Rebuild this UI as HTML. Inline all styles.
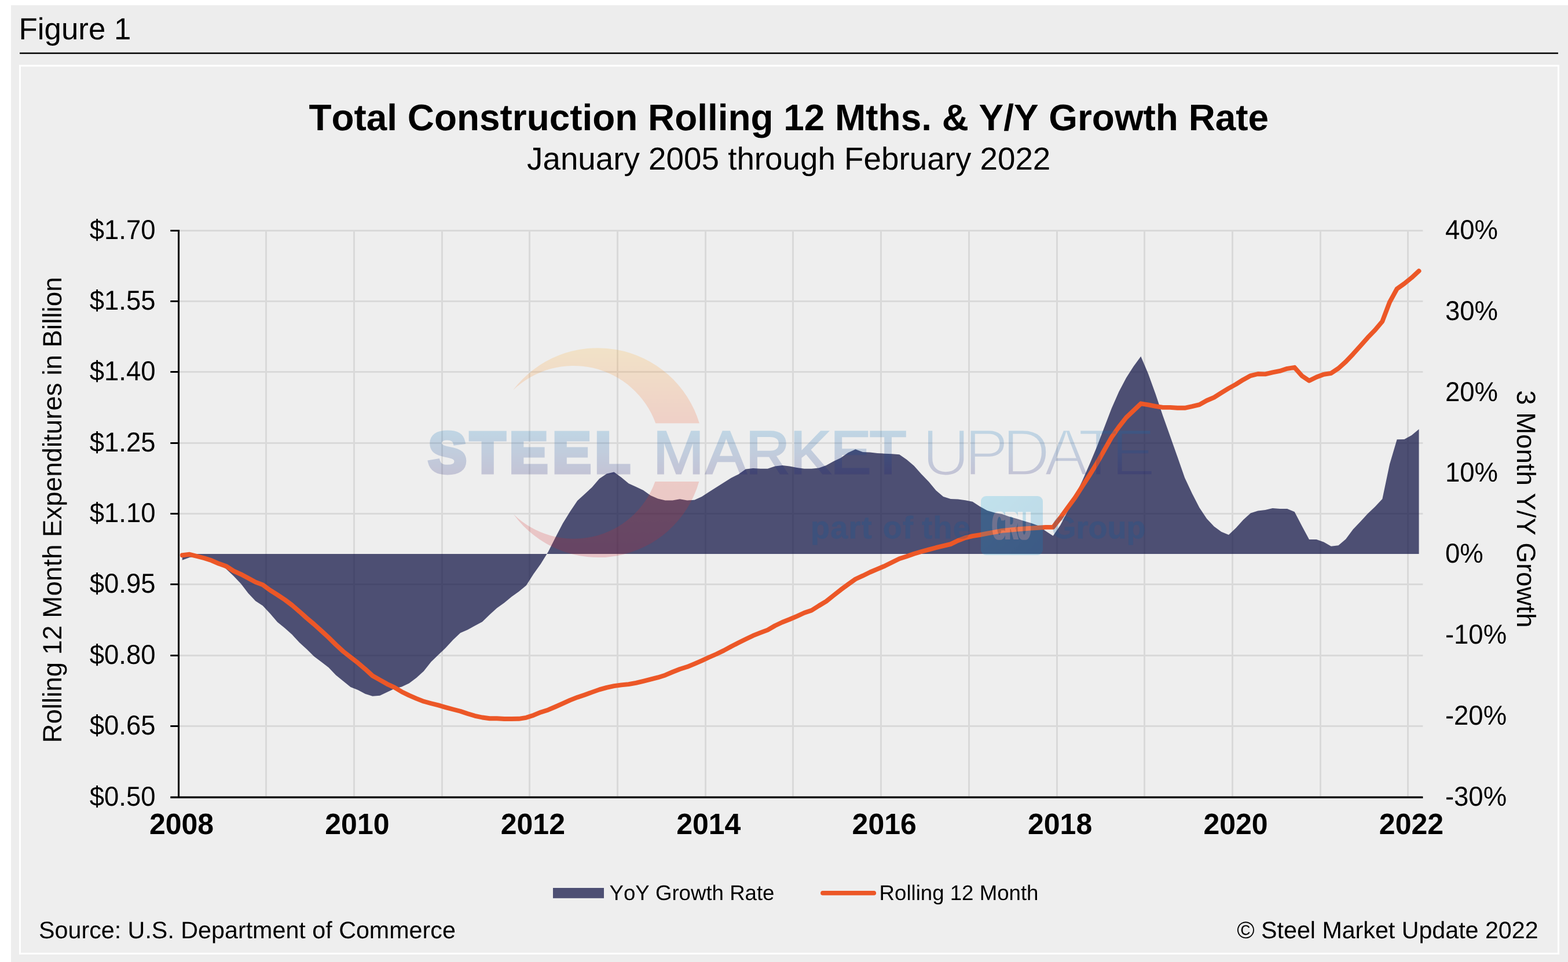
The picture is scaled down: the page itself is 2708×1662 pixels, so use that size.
<!DOCTYPE html>
<html lang="en"><head><meta charset="utf-8"><title>Figure 1 - Total Construction Rolling 12 Mths. &amp; Y/Y Growth Rate</title>
<style>html,body{margin:0;padding:0;background:#fff;}body{width:2708px;height:1662px;overflow:hidden;}svg{display:block;}text{font-family:"Liberation Sans", sans-serif;fill:#000;font-kerning:none;font-variant-ligatures:none;text-rendering:geometricPrecision;}</style>
</head><body>
<svg width="2708" height="1662" viewBox="0 0 2708 1662">
<defs>
<linearGradient id="gCres" gradientUnits="userSpaceOnUse" x1="0" y1="600" x2="0" y2="963"><stop offset="0" stop-color="#ffb430"/><stop offset="0.36" stop-color="#f35a30"/><stop offset="1" stop-color="#cf1c28"/></linearGradient>
<linearGradient id="gTxt" gradientUnits="userSpaceOnUse" x1="0" y1="743" x2="0" y2="820"><stop offset="0" stop-color="#0a78c0"/><stop offset="1" stop-color="#1c1c74"/></linearGradient>
<linearGradient id="gCru" gradientUnits="userSpaceOnUse" x1="1694" y1="857" x2="1801" y2="959"><stop offset="0" stop-color="#10b0e6"/><stop offset="1" stop-color="#0088cc"/></linearGradient>
<mask id="mThin" maskUnits="userSpaceOnUse" x="1580" y="720" width="430" height="120"><text x="1592.4 1665.5 1730.9 1803.5 1861.9 1919.3" y="820.5" font-size="114" style="fill:#fff;stroke:#000;stroke-width:3.4px">UPDATE</text></mask>
<filter id="fWide" x="-10%" y="-10%" width="120%" height="120%"><feMorphology operator="dilate" radius="4 0"/></filter>
</defs>
<rect x="0" y="0" width="2708" height="1662" fill="#fff"/>
<rect x="19" y="9" width="2689" height="1653" fill="#ededed"/>
<text x="32.6" y="67.8" font-size="52.8">Figure 1</text>
<rect x="34" y="90.7" width="2657" height="2.5" fill="#000"/>
<rect x="34.5" y="113.5" width="2657" height="1534" fill="#eeeeee" stroke="#fff" stroke-width="3"/>
<text x="1362.3" y="224.8" font-size="63.9" font-weight="bold" text-anchor="middle">Total Construction Rolling 12 Mths. &amp; Y/Y Growth Rate</text>
<text x="1362.2" y="293" font-size="54.78" text-anchor="middle">January 2005 through February 2022</text>
<g fill="#d9d9d9"><rect x="310" y="397.0" width="2147.4" height="3"/><rect x="310" y="519.0" width="2147.4" height="3"/><rect x="310" y="641.0" width="2147.4" height="3"/><rect x="310" y="764.0" width="2147.4" height="3"/><rect x="310" y="886.0" width="2147.4" height="3"/><rect x="310" y="1008.0" width="2147.4" height="3"/><rect x="310" y="1131.0" width="2147.4" height="3"/><rect x="310" y="1253.0" width="2147.4" height="3"/><rect x="458.0" y="400" width="3" height="975.6"/><rect x="610.0" y="400" width="3" height="975.6"/><rect x="762.0" y="400" width="3" height="975.6"/><rect x="913.0" y="400" width="3" height="975.6"/><rect x="1065.0" y="400" width="3" height="975.6"/><rect x="1217.0" y="400" width="3" height="975.6"/><rect x="1368.0" y="400" width="3" height="975.6"/><rect x="1520.0" y="400" width="3" height="975.6"/><rect x="1672.0" y="400" width="3" height="975.6"/><rect x="1824.0" y="400" width="3" height="975.6"/><rect x="1975.0" y="400" width="3" height="975.6"/><rect x="2127.0" y="400" width="3" height="975.6"/><rect x="2279.0" y="400" width="3" height="975.6"/><rect x="2430.0" y="400" width="3" height="975.6"/></g>
<path d="M314.80,957.00L314.80,967.70L327.44,962.90L340.07,961.40L352.71,965.00L365.35,969.00L377.99,974.50L390.62,982.90L403.26,995.00L415.90,1008.20L428.54,1024.70L441.18,1038.20L453.81,1046.50L466.45,1060.10L479.09,1074.70L491.73,1084.90L504.36,1096.30L517.00,1110.00L529.64,1121.50L542.27,1133.90L554.91,1143.50L567.55,1153.20L580.19,1166.60L592.83,1176.80L605.46,1187.10L618.10,1192.10L630.74,1198.75L643.38,1202.70L656.01,1201.80L668.65,1195.70L681.29,1189.80L693.92,1186.40L706.56,1180.50L719.20,1171.00L731.84,1159.50L744.47,1143.40L757.11,1131.25L769.75,1119.30L782.39,1105.50L795.02,1093.40L807.66,1088.00L820.30,1080.90L832.94,1074.30L845.58,1062.10L858.21,1050.50L870.85,1041.50L883.49,1031.10L896.12,1022.10L908.76,1011.40L921.40,991.80L934.04,973.90L946.67,953.40L959.31,928.40L971.95,904.30L984.59,883.75L997.22,865.00L1009.86,853.40L1022.50,841.80L1035.14,827.10L1047.77,818.60L1060.41,815.50L1073.05,824.80L1085.69,835.20L1098.33,840.90L1110.96,847.10L1123.60,856.10L1136.24,861.40L1148.88,864.50L1161.51,864.50L1174.15,862.30L1186.79,864.50L1199.42,863.75L1212.06,857.90L1224.70,849.80L1237.34,841.80L1249.97,833.75L1262.61,825.70L1275.25,819.50L1287.89,810.40L1300.52,809.00L1313.16,809.80L1325.80,809.80L1338.44,805.40L1351.07,803.90L1363.71,805.40L1376.35,808.00L1388.99,809.80L1401.62,809.80L1414.26,808.40L1426.90,803.90L1439.54,797.10L1452.17,791.10L1464.81,782.00L1477.45,776.25L1490.09,781.10L1502.72,781.40L1515.36,782.90L1528.00,783.75L1540.64,784.30L1553.27,785.20L1565.91,794.10L1578.55,804.80L1591.19,819.10L1603.82,832.10L1616.46,847.30L1629.10,858.00L1641.74,862.00L1654.37,862.40L1667.01,864.30L1679.65,866.80L1692.29,875.00L1704.92,882.00L1717.56,885.80L1730.20,888.00L1742.84,892.60L1755.47,896.00L1768.11,899.90L1780.75,903.80L1793.39,908.20L1806.02,917.40L1818.66,925.70L1831.30,907.20L1843.94,883.00L1856.57,857.10L1869.21,830.40L1881.85,801.80L1894.49,771.40L1907.12,738.40L1919.76,705.40L1932.40,676.80L1945.04,652.70L1957.67,633.00L1970.31,615.70L1982.95,645.50L1995.59,680.40L2008.22,717.90L2020.86,753.60L2033.50,789.30L2046.14,825.60L2058.78,852.40L2071.41,877.00L2084.05,895.90L2096.69,909.60L2109.32,918.75L2121.96,923.90L2134.60,912.00L2147.24,898.00L2159.88,886.40L2172.51,882.50L2185.15,881.10L2197.79,878.00L2210.43,878.90L2223.06,878.90L2235.70,884.30L2248.34,908.40L2260.97,932.00L2273.61,932.00L2286.25,936.40L2298.89,943.75L2311.53,942.30L2324.16,931.60L2336.80,914.60L2349.44,901.25L2362.07,887.50L2374.71,875.40L2387.35,862.00L2399.99,802.10L2412.62,759.30L2425.26,758.90L2437.90,752.10L2450.54,741.40L2450.54,957.00 Z" fill="rgb(8,12,62)" fill-opacity="0.70"/>
<g fill="#000"><rect x="307" y="397" width="3.1" height="982.0"/><rect x="294.3" y="1375.8" width="2163.1" height="3.4"/><rect x="294.3" y="397.0" width="13" height="3"/><rect x="294.3" y="519.0" width="13" height="3"/><rect x="294.3" y="641.0" width="13" height="3"/><rect x="294.3" y="764.0" width="13" height="3"/><rect x="294.3" y="886.0" width="13" height="3"/><rect x="294.3" y="1008.0" width="13" height="3"/><rect x="294.3" y="1131.0" width="13" height="3"/><rect x="294.3" y="1253.0" width="13" height="3"/></g>
<path d="M314.80,959.20L327.44,957.80L340.07,961.00L352.71,964.30L365.35,968.30L377.99,973.80L390.62,978.20L403.26,986.30L415.90,992.10L428.54,998.70L441.18,1005.60L453.81,1010.40L466.45,1019.60L479.09,1027.60L491.73,1036.00L504.36,1045.50L517.00,1056.40L529.64,1067.80L542.27,1078.40L554.91,1089.80L567.55,1101.40L580.19,1113.90L592.83,1125.50L605.46,1135.40L618.10,1145.20L630.74,1155.90L643.38,1167.50L656.01,1174.60L668.65,1181.80L681.29,1187.70L693.92,1195.20L706.56,1201.40L719.20,1206.80L731.84,1211.80L744.47,1215.20L757.11,1218.40L769.75,1222.10L782.39,1225.50L795.02,1228.75L807.66,1233.00L820.30,1236.80L832.94,1239.50L845.58,1241.25L858.21,1241.25L870.85,1242.00L883.49,1242.00L896.12,1241.80L908.76,1239.80L921.40,1235.70L934.04,1230.40L946.67,1226.40L959.31,1221.00L971.95,1215.40L984.59,1209.70L997.22,1204.70L1009.86,1200.40L1022.50,1195.90L1035.14,1191.40L1047.77,1187.90L1060.41,1185.20L1073.05,1183.40L1085.69,1182.10L1098.33,1179.80L1110.96,1176.80L1123.60,1173.60L1136.24,1170.40L1148.88,1166.40L1161.51,1161.00L1174.15,1156.00L1186.79,1152.10L1199.42,1146.80L1212.06,1141.40L1224.70,1135.50L1237.34,1130.00L1249.97,1123.90L1262.61,1117.00L1275.25,1110.50L1287.89,1104.30L1300.52,1098.20L1313.16,1093.20L1325.80,1088.40L1338.44,1081.00L1351.07,1075.00L1363.71,1070.00L1376.35,1064.60L1388.99,1058.75L1401.62,1054.50L1414.26,1046.50L1426.90,1038.90L1439.54,1028.70L1452.17,1018.80L1464.81,1009.50L1477.45,1000.50L1490.09,994.70L1502.72,988.50L1515.36,983.10L1528.00,977.80L1540.64,971.50L1553.27,965.30L1565.91,961.25L1578.55,956.80L1591.19,953.00L1603.82,949.60L1616.46,946.20L1629.10,943.20L1641.74,940.10L1654.37,934.00L1667.01,929.10L1679.65,926.20L1692.29,924.10L1704.92,921.60L1717.56,919.40L1730.20,916.90L1742.84,915.80L1755.47,914.50L1768.11,913.50L1780.75,912.60L1793.39,911.80L1806.02,910.90L1818.66,910.90L1831.30,894.50L1843.94,877.00L1856.57,859.80L1869.21,840.20L1881.85,820.50L1894.49,800.00L1907.12,777.70L1919.76,755.40L1932.40,737.50L1945.04,721.40L1957.67,709.30L1970.31,697.30L1982.95,699.30L1995.59,701.80L2008.22,703.90L2020.86,703.90L2033.50,704.80L2046.14,704.80L2058.78,702.10L2071.41,699.10L2084.05,692.00L2096.69,686.60L2109.32,678.60L2121.96,670.90L2134.60,663.90L2147.24,655.90L2159.88,649.10L2172.51,646.00L2185.15,646.40L2197.79,643.40L2210.43,640.90L2223.06,636.80L2235.70,634.80L2248.34,649.20L2260.97,657.80L2273.61,651.50L2286.25,646.80L2298.89,644.80L2311.53,636.40L2324.16,625.00L2336.80,611.70L2349.44,597.70L2362.07,583.30L2374.71,570.30L2387.35,555.20L2399.99,522.00L2412.62,499.00L2425.26,490.00L2437.90,479.80L2450.54,468.10" fill="none" stroke="#ec5727" stroke-width="7.9" stroke-linejoin="round" stroke-linecap="round"/>
<g opacity="0.2"><path fill="url(#gCres)" d="M886,674 A183.4,183.4 0 0 1 1207.8,731.2 L1132.3,731.2 A150.9,150.9 0 0 0 886,674 Z"/><path fill="url(#gCres)" d="M886.8,888.2 A180.9,180.9 0 0 0 1207.3,832 L1131.4,832 A149,149 0 0 1 886.8,888.2 Z"/><text x="739.7 812.1 880.1 954.4 1027.8" y="815.6" font-size="98.8" font-weight="bold" style="fill:url(#gTxt);stroke:url(#gTxt);stroke-width:7px;stroke-linejoin:miter">STEEL</text><text x="1128.1 1218.9 1287.9 1364.6 1434.3 1501.4" y="817.6" font-size="105.2" style="fill:url(#gTxt);stroke:url(#gTxt);stroke-width:3px;stroke-linejoin:miter">MARKET</text><rect x="1580" y="720" width="430" height="120" fill="url(#gTxt)" mask="url(#mThin)"/><text y="929.7" font-size="54" font-weight="bold" style="fill:#005aa0;stroke:#005aa0;stroke-width:0.8px;letter-spacing:1.2px"><tspan x="1400.0">part</tspan> <tspan x="1524.8">of</tspan> <tspan x="1592.3">the</tspan></text><text x="1816.6" y="929.7" font-size="54" font-weight="bold" style="fill:#005aa0;stroke:#005aa0;stroke-width:0.8px;letter-spacing:0px">Group</text><rect x="1694" y="857" width="107" height="102" rx="9" ry="9" fill="url(#gCru)"/><text transform="translate(1714.2,932.3) scale(0.44,1)" x="0" y="0" font-size="69" font-weight="bold" filter="url(#fWide)" style="fill:#fff">CRU</text></g>
<g font-size="45.5"><text transform="translate(268.6,413.00) scale(1,1.04)" text-anchor="end">$1.70</text><text transform="translate(268.6,535.00) scale(1,1.04)" text-anchor="end">$1.55</text><text transform="translate(268.6,657.00) scale(1,1.04)" text-anchor="end">$1.40</text><text transform="translate(268.6,780.00) scale(1,1.04)" text-anchor="end">$1.25</text><text transform="translate(268.6,902.00) scale(1,1.04)" text-anchor="end">$1.10</text><text transform="translate(268.6,1024.00) scale(1,1.04)" text-anchor="end">$0.95</text><text transform="translate(268.6,1147.00) scale(1,1.04)" text-anchor="end">$0.80</text><text transform="translate(268.6,1269.00) scale(1,1.04)" text-anchor="end">$0.65</text><text transform="translate(268.6,1392.00) scale(1,1.04)" text-anchor="end">$0.50</text><text transform="translate(2495.9,413.00) scale(1,1.04)">40%</text><text transform="translate(2495.9,552.80) scale(1,1.04)">30%</text><text transform="translate(2495.9,692.60) scale(1,1.04)">20%</text><text transform="translate(2495.9,832.40) scale(1,1.04)">10%</text><text transform="translate(2495.9,972.20) scale(1,1.04)">0%</text><text transform="translate(2495.9,1112.00) scale(1,1.04)">-10%</text><text transform="translate(2495.9,1251.80) scale(1,1.04)">-20%</text><text transform="translate(2495.9,1391.60) scale(1,1.04)">-30%</text></g>
<g font-size="50" font-weight="bold"><text transform="translate(313.50,1440.7) scale(1,1.015)" text-anchor="middle">2008</text><text transform="translate(616.92,1440.7) scale(1,1.015)" text-anchor="middle">2010</text><text transform="translate(920.34,1440.7) scale(1,1.015)" text-anchor="middle">2012</text><text transform="translate(1223.77,1440.7) scale(1,1.015)" text-anchor="middle">2014</text><text transform="translate(1527.19,1440.7) scale(1,1.015)" text-anchor="middle">2016</text><text transform="translate(1830.61,1440.7) scale(1,1.015)" text-anchor="middle">2018</text><text transform="translate(2134.03,1440.7) scale(1,1.015)" text-anchor="middle">2020</text><text transform="translate(2437.45,1440.7) scale(1,1.015)" text-anchor="middle">2022</text></g>
<text transform="translate(105.5,881) rotate(-90)" font-size="45.7" text-anchor="middle">Rolling 12 Month Expenditures in Billion</text>
<text transform="translate(2619.6,879.2) rotate(90)" font-size="45.55" text-anchor="middle">3 Month Y/Y Growth</text>
<rect x="955" y="1534" width="88" height="17.8" fill="rgb(8,12,62)" fill-opacity="0.70"/>
<text x="1052.5" y="1555.1" font-size="36.63">YoY Growth Rate</text>
<line x1="1420.9" y1="1542.9" x2="1509.3" y2="1542.9" stroke="#ec5727" stroke-width="7.6" stroke-linecap="round"/>
<text x="1518.6" y="1555.1" font-size="36.63">Rolling 12 Month</text>
<text x="67" y="1620.7" font-size="41.25">Source: U.S. Department of Commerce</text>
<text x="2656.6" y="1620.9" font-size="41.2" text-anchor="end">© Steel Market Update 2022</text>
</svg></body></html>
